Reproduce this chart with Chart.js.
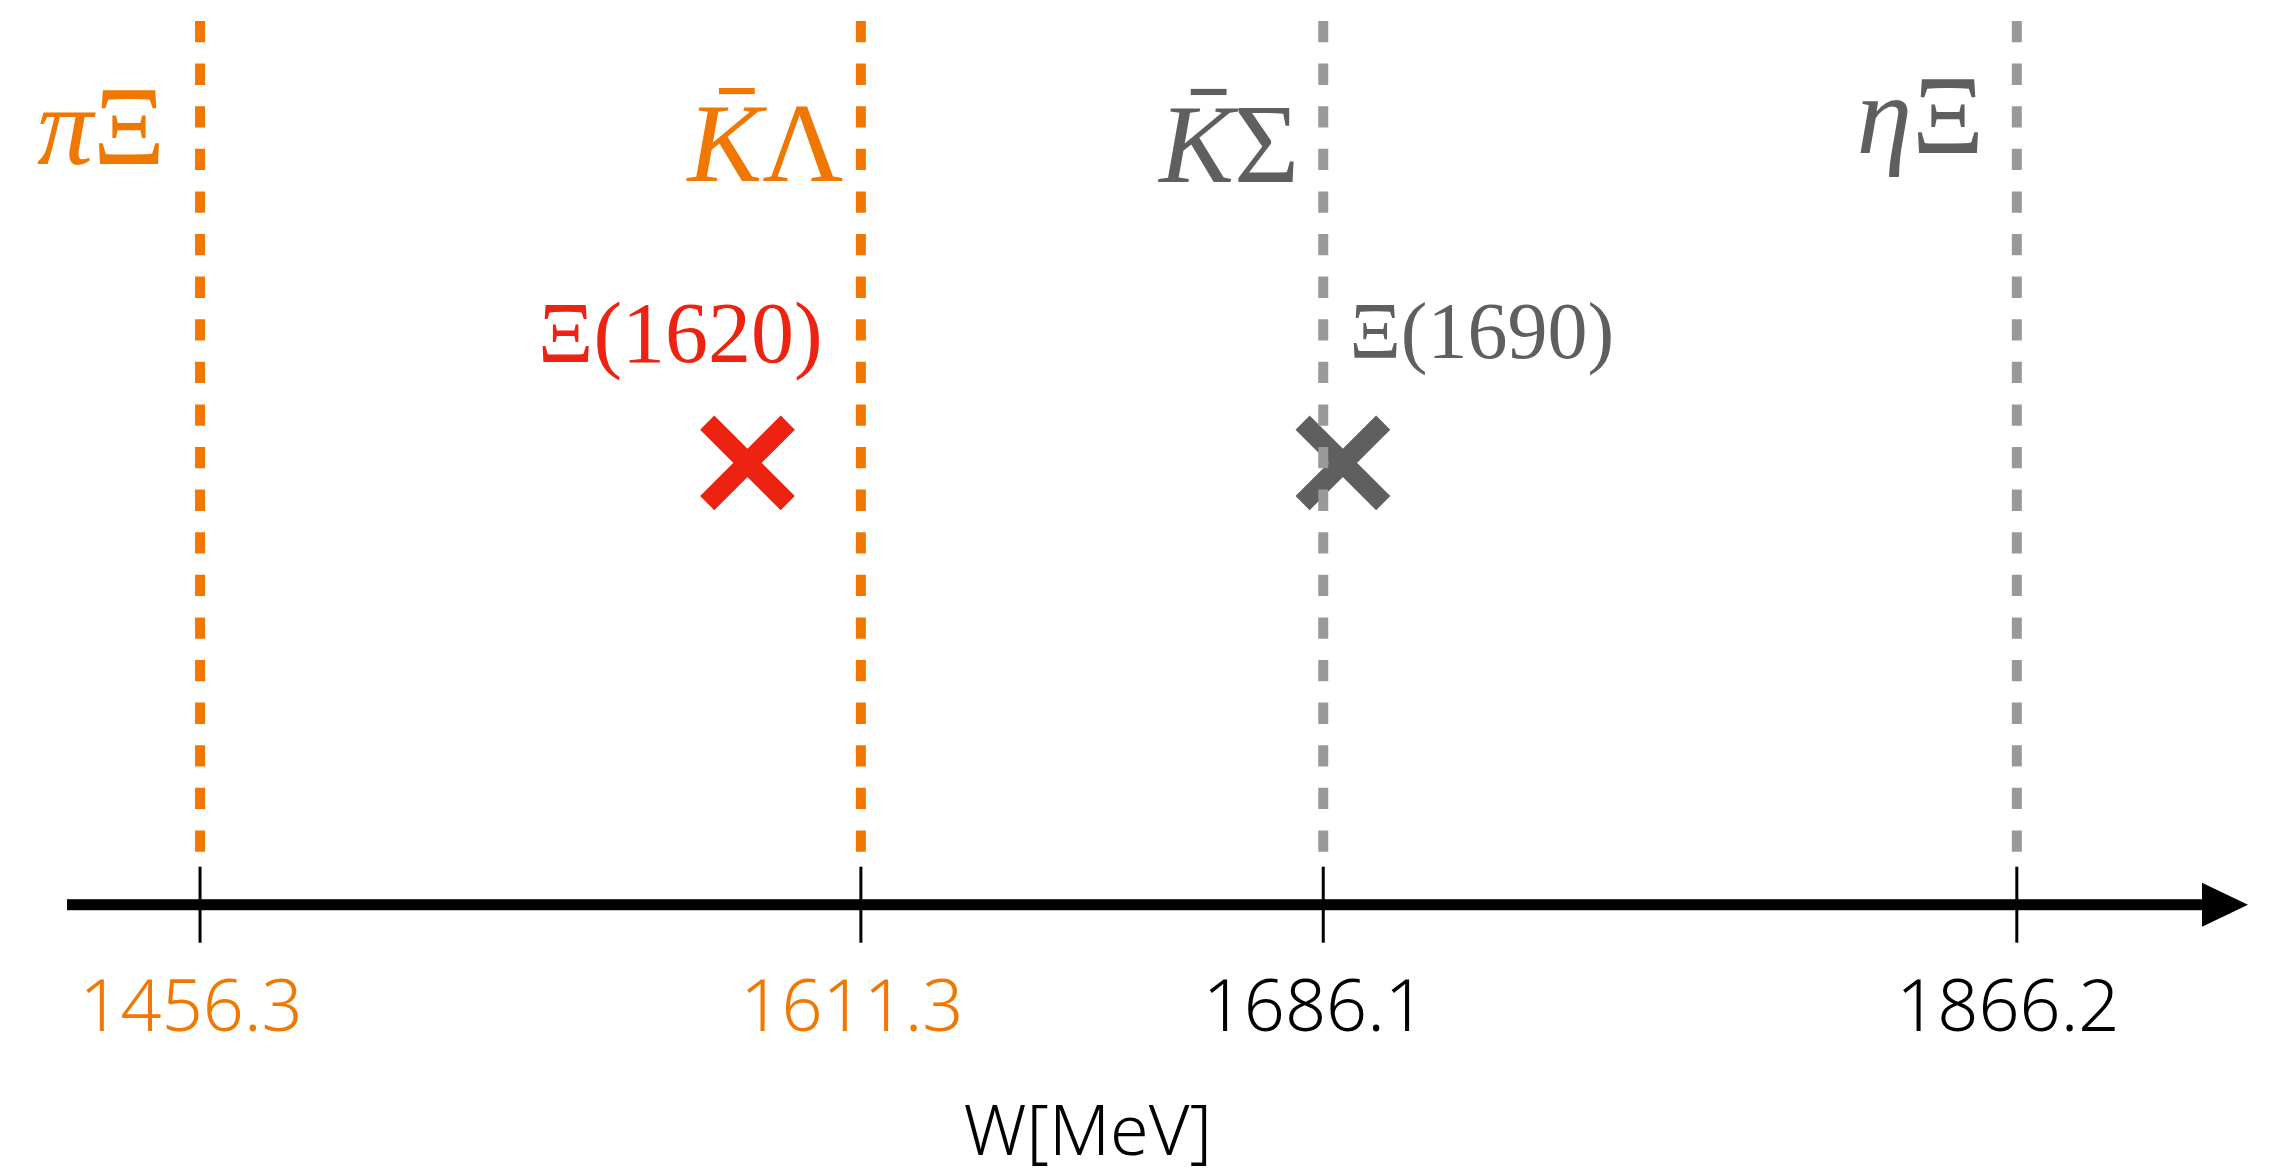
<!DOCTYPE html>
<html>
<head>
<meta charset="utf-8">
<script src="https://cdn.jsdelivr.net/npm/chart.js@4.4.1/dist/chart.umd.min.js"></script>
<style>
  html, body { margin: 0; padding: 0; background: #fff; }
  canvas { display: block; }
</style>
</head>
<body>
<canvas id="myChart" width="2271" height="1168"></canvas>
<script>
// schematic (not to scale) positions along the W axis, 0..100
const thresholdLabels = ["1456.3", "1611.3", "1686.1", "1866.2"];
const thresholdPos = [6.1, 36.4, 57.6, 89.4];
const channelNames = ["πΞ", "K\u0304Λ", "K\u0304Σ", "ηΞ"];
const resonanceNames = ["Ξ(1620)", "Ξ(1690)"];
const resonancePos = [31.2, 58.5];
const resonanceHeight = [5, 5];

const ORANGE = "#f07800";
const RED = "#ee2211";
const DARK = "#5f5f5f";
const LIGHT = "#999999";

const lineColors = [ORANGE, ORANGE, LIGHT, LIGHT];
const tickColors = [ORANGE, ORANGE, "#000", "#000"];
const channelColors = [ORANGE, ORANGE, DARK, DARK];
const resonanceColors = [RED, DARK];

// where the text goes (right edge / left edge, baseline) in axis units
const channelAnchor = [[4.5, 8.38], [35.6, 8.19], [56.5, 8.18], [87.9, 8.51]];
const resonanceAnchor = [[21.6, 6.14], [58.8, 6.19]];
const resonanceFont = [86, 80];

const SERIF = "'Liberation Serif', 'Times New Roman', Times, serif";
const SANS = "'Noto Sans', sans-serif";

// split "K̄Λ" into runs: letters italic, capital greek upright, macron -> bar
function toRuns(str) {
	const runs = [];
	for (const ch of str) {
		if (ch === "\u0304") {
			runs[runs.length - 1].bar = true;
			continue;
		}
		runs.push({ t: ch, it: /[A-Za-zα-ω]/.test(ch) });
	}
	return runs;
}

function drawMath(ctx, str, x, y, size, color, align) {
	const runs = toRuns(str);
	let total = 0;
	runs.forEach((r) => {
		ctx.font = (r.it ? "italic " : "") + size + "px " + SERIF;
		r.w = ctx.measureText(r.t).width;
		total += r.w;
	});
	let cx = align === "right" ? x - total : x;
	ctx.fillStyle = color;
	ctx.textBaseline = "alphabetic";
	ctx.textAlign = "left";
	runs.forEach((r) => {
		ctx.font = (r.it ? "italic " : "") + size + "px " + SERIF;
		ctx.fillText(r.t, cx, y);
		if (r.bar) {
			ctx.fillRect(cx + r.w * 0.42, y - size * 0.83, size * 0.32, size * 0.055);
		}
		cx += r.w;
	});
}

const annotate = {
	id: "annotate",
	afterDatasetsDraw(chart) {
		const { ctx, chartArea } = chart;
		const x = chart.scales.x;
		const y = chart.scales.y;
		const y0 = y.getPixelForValue(0);
		ctx.save();

		// axis with arrow head
		ctx.fillStyle = "#000";
		ctx.fillRect(chartArea.left, y0 - 5.5, chartArea.right - 44 - chartArea.left, 11);
		ctx.beginPath();
		ctx.moveTo(chartArea.right - 46, y0 - 22);
		ctx.lineTo(chartArea.right, y0);
		ctx.lineTo(chartArea.right - 46, y0 + 22);
		ctx.closePath();
		ctx.fill();

		// tick marks across the axis, with their labels
		ctx.strokeStyle = "#000";
		ctx.lineWidth = 3;
		ctx.font = "300 72px " + SANS;
		ctx.textAlign = "center";
		ctx.textBaseline = "alphabetic";
		thresholdPos.forEach((v, i) => {
			const px = x.getPixelForValue(v);
			ctx.beginPath();
			ctx.moveTo(px, y.getPixelForValue(0.43));
			ctx.lineTo(px, y.getPixelForValue(-0.43));
			ctx.stroke();
			ctx.fillStyle = tickColors[i];
			ctx.fillText(thresholdLabels[i], px - 9, y.getPixelForValue(-1.43));
		});

		channelNames.forEach((name, i) => {
			drawMath(ctx, name, x.getPixelForValue(channelAnchor[i][0]),
				y.getPixelForValue(channelAnchor[i][1]), 112, channelColors[i], "right");
		});
		resonanceNames.forEach((name, i) => {
			drawMath(ctx, name, x.getPixelForValue(resonanceAnchor[i][0]),
				y.getPixelForValue(resonanceAnchor[i][1]), resonanceFont[i], resonanceColors[i], "left");
		});

		// axis title
		ctx.fillStyle = "#000";
		ctx.font = "300 70px " + SANS;
		ctx.textAlign = "center";
		ctx.textBaseline = "alphabetic";
		ctx.fillText("W[MeV]", x.getPixelForValue(46.8), y.getPixelForValue(-2.83));
		ctx.restore();
	},
};

window.addEventListener("load", setup);

function setup() {
	const ctx = document.getElementById("myChart").getContext("2d");
	const datasets = [];
	thresholdPos.forEach((v, i) => {
		datasets.push({
			type: "line",
			data: [{ x: v, y: 10 }, { x: v, y: 0.6 }],
			borderColor: lineColors[i],
			borderWidth: 10,
			borderDash: [21.3, 21.3],
			pointRadius: 0,
			fill: false,
			order: 0,
		});
	});
	datasets.push({
		type: "scatter",
		data: resonancePos.map((v, i) => ({ x: v, y: resonanceHeight[i] })),
		pointStyle: "crossRot",
		pointRadius: 57,
		pointBorderWidth: 20,
		pointBorderColor: resonanceColors,
		pointBackgroundColor: resonanceColors,
		order: 1,
	});

	new Chart(ctx, {
		data: { datasets },
		options: {
			responsive: false,
			devicePixelRatio: 1,
			animation: false,
			events: [],
			layout: { autoPadding: false, padding: { left: 67, right: 23, top: 21, bottom: 7 } },
			plugins: { legend: { display: false }, tooltip: { enabled: false } },
			scales: {
				x: { type: "linear", min: 0, max: 100, display: false },
				y: { type: "linear", min: -2.9, max: 10, display: false },
			},
		},
		plugins: [annotate],
	});
}
</script>
</body>
</html>
